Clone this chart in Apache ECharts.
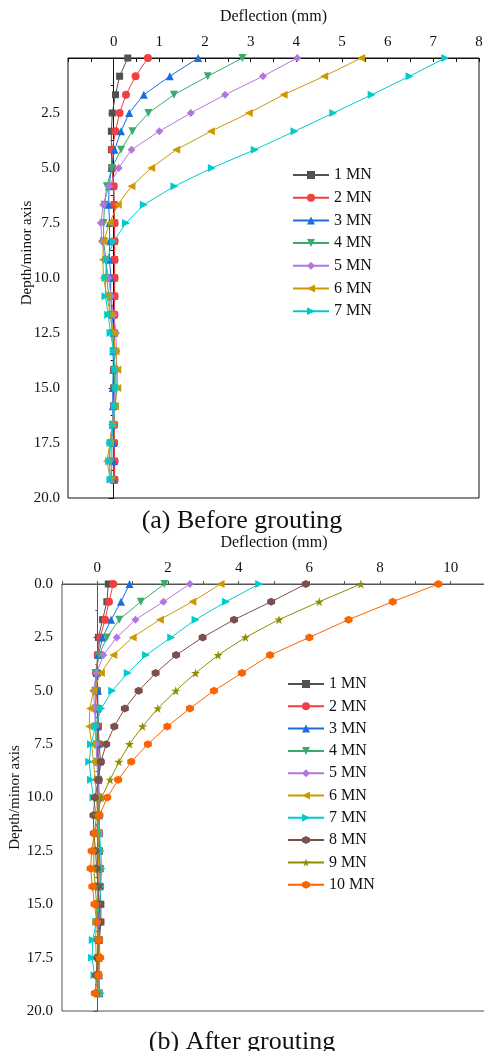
<!DOCTYPE html>
<html>
<head>
<meta charset="utf-8">
<script src="https://cdn.jsdelivr.net/npm/echarts@6/dist/echarts.min.js"></script>
<style>
html,body{margin:0;padding:0;background:#fff;}
#c{width:484px;height:1051px;}
</style>
</head>
<body>
<div id="c"></div>
<script>
// Depth (m) of the measuring points
const depths = [0, 0.83, 1.67, 2.5, 3.33, 4.17, 5, 5.83, 6.67, 7.5, 8.33, 9.17, 10, 10.83, 11.67, 12.5, 13.33, 14.17, 15, 15.83, 16.67, 17.5, 18.33, 19.17];

// (a) Before grouting – deflection (mm)
const namesA = ['1 MN', '2 MN', '3 MN', '4 MN', '5 MN', '6 MN', '7 MN'];
const a1 = [0.31, 0.13, 0.04, -0.03, -0.05, -0.05, -0.04, 0.0, 0.01, 0.02, 0.02, 0.02, 0.02, 0.02, 0.01, 0.01, 0.0, 0.0, 0.0, 0.0, 0.01, 0.01, 0.02, 0.02];
const a2 = [0.75, 0.48, 0.27, 0.13, 0.04, -0.03, -0.03, 0.0, 0.01, 0.02, 0.02, 0.02, 0.02, 0.02, 0.02, 0.02, 0.01, 0.01, 0.01, 0.01, 0.01, 0.01, 0.02, 0.02];
const a3 = [1.85, 1.23, 0.66, 0.34, 0.16, 0.02, -0.05, -0.1, -0.11, -0.09, -0.09, -0.09, -0.06, -0.07, -0.03, 0.0, -0.01, -0.01, -0.02, -0.02, -0.02, -0.01, -0.01, 0.0];
const a4 = [2.82, 2.06, 1.32, 0.76, 0.41, 0.16, -0.04, -0.15, -0.2, -0.22, -0.22, -0.17, -0.15, -0.11, -0.07, -0.03, 0.0, 0.02, 0.02, 0.0, -0.02, -0.05, -0.06, -0.04];
const a5 = [4.02, 3.27, 2.44, 1.69, 1.0, 0.39, 0.11, -0.1, -0.23, -0.28, -0.26, -0.18, -0.11, -0.06, 0.0, 0.05, 0.06, 0.06, 0.04, 0.0, -0.03, -0.09, -0.1, -0.07];
const a6 = [5.42, 4.61, 3.72, 2.96, 2.13, 1.37, 0.82, 0.39, 0.09, -0.09, -0.22, -0.24, -0.22, -0.15, -0.07, -0.01, 0.04, 0.08, 0.08, 0.03, -0.03, -0.08, -0.15, -0.07];
const a7 = [7.26, 6.48, 5.65, 4.81, 3.96, 3.09, 2.15, 1.33, 0.66, 0.27, 0.0, -0.15, -0.18, -0.18, -0.12, -0.07, 0.0, 0.04, 0.06, 0.03, -0.01, -0.07, -0.1, -0.07];

// (b) After grouting – deflection (mm)
const namesB = ['1 MN', '2 MN', '3 MN', '4 MN', '5 MN', '6 MN', '7 MN', '8 MN', '9 MN', '10 MN'];
const b1 = [0.31, 0.27, 0.15, 0.03, 0.01, 0.0, 0.0, 0.02, 0.03, 0.05, 0.09, 0.03, 0.0, 0.02, 0.05, 0.06, 0.08, 0.08, 0.1, 0.1, 0.06, 0.03, 0.02, 0.05];
const b2 = [0.45, 0.33, 0.22, 0.08, 0.01, -0.04, -0.03, 0.0, 0.01, 0.02, 0.03, 0.04, 0.05, 0.05, 0.05, 0.04, 0.04, 0.03, 0.03, 0.03, 0.02, 0.02, 0.03, 0.04];
const b3 = [0.91, 0.67, 0.39, 0.15, 0.03, -0.02, 0.02, 0.0, 0.0, 0.01, 0.02, 0.03, 0.04, 0.05, 0.05, 0.05, 0.04, 0.04, 0.03, 0.03, 0.03, 0.04, 0.05, 0.06];
const b4 = [1.9, 1.23, 0.62, 0.27, 0.05, -0.05, -0.06, -0.05, -0.04, -0.02, 0.0, 0.01, 0.02, 0.03, 0.03, 0.03, 0.02, 0.01, 0.0, 0.0, 0.01, 0.02, 0.03, 0.03];
const b5 = [2.62, 1.87, 1.08, 0.55, 0.17, -0.02, -0.11, -0.08, -0.06, -0.04, -0.01, 0.02, 0.04, 0.05, 0.05, 0.04, 0.03, 0.02, 0.01, 0.01, 0.02, 0.03, 0.04, 0.05];
const b6 = [3.49, 2.69, 1.77, 1.0, 0.45, 0.1, -0.11, -0.21, -0.23, -0.16, -0.11, -0.06, -0.02, 0.0, 0.02, 0.03, 0.03, 0.02, 0.0, -0.03, -0.05, -0.03, 0.0, 0.02];
const b7 = [4.58, 3.64, 2.78, 2.09, 1.38, 0.86, 0.42, 0.11, -0.05, -0.18, -0.23, -0.18, -0.11, -0.03, 0.06, 0.1, 0.12, 0.1, 0.06, -0.03, -0.13, -0.15, -0.08, 0.1];
const b8 = [5.9, 4.92, 3.87, 2.98, 2.23, 1.65, 1.17, 0.78, 0.48, 0.25, 0.1, 0.03, -0.07, -0.11, -0.1, -0.05, -0.02, 0.02, 0.05, 0.08, 0.03, 0.0, -0.03, -0.05];
const b9 = [7.46, 6.28, 5.14, 4.19, 3.42, 2.78, 2.22, 1.71, 1.28, 0.91, 0.61, 0.36, 0.12, -0.02, -0.08, -0.1, -0.1, -0.06, -0.02, 0.0, 0.02, 0.03, 0.02, 0.0];
const b10 = [9.65, 8.36, 7.11, 6.0, 4.89, 4.09, 3.3, 2.62, 1.98, 1.43, 0.96, 0.59, 0.28, 0.06, -0.08, -0.16, -0.19, -0.14, -0.08, -0.02, 0.05, 0.08, 0.03, -0.07];

const seriesA = [a1, a2, a3, a4, a5, a6, a7];
const seriesB = [b1, b2, b3, b4, b5, b6, b7, b8, b9, b10];

const colors = ['#515151', '#F14040', '#1A6FDF', '#37AD6B', '#B177DE', '#CC9900', '#00CBCC', '#7D4E4E', '#8E8E00', '#FB6501'];
const HEX = 'path://M0,-1L0.866,-0.5L0.866,0.5L0,1L-0.866,0.5L-0.866,-0.5Z';
const STAR = 'path://M0,-1L0.2245,-0.309L0.951,-0.309L0.363,0.118L0.588,0.809L0,0.382L-0.588,0.809L-0.363,0.118L-0.951,-0.309L-0.2245,-0.309Z';
const TRI_DOWN = 'path://M-1,-0.87L1,-0.87L0,0.87Z';
const TRI_LEFT = 'path://M0.87,-1L0.87,1L-0.87,0Z';
const TRI_RIGHT = 'path://M-0.87,-1L-0.87,1L0.87,0Z';
const symbols = ['rect', 'circle', 'triangle', TRI_DOWN, 'diamond', TRI_LEFT, TRI_RIGHT, HEX, STAR, HEX];
const sizes = [7, 8, 8, 8, 8, 8, 8, 8, 9, 8];

const FONT = 'Liberation Serif';

function mkSeries(arr, names, idx) {
  return arr.map((vals, k) => ({
    name: names[k],
    type: 'line',
    xAxisIndex: idx,
    yAxisIndex: idx,
    data: vals.map((v, j) => [v, depths[j]]),
    symbol: symbols[k],
    symbolSize: sizes[k],
    showSymbol: true,
    color: colors[k],
    lineStyle: { width: 1, color: colors[k] },
    itemStyle: { color: colors[k] },
    emphasis: { disabled: true },
    animation: false,
    z: 2 + k
  }));
}

const chart = echarts.init(document.getElementById('c'), null, { renderer: 'canvas' });

const axisTxt = { fontFamily: FONT, fontSize: 16, color: '#111' };

chart.setOption({
  animation: false,
  backgroundColor: '#fff',
  title: [
    { text: '(a) Before grouting', left: 'center', top: 503, textStyle: { fontFamily: FONT, fontSize: 26, fontWeight: 'normal', color: '#111' } },
    { text: '(b) After grouting', left: 'center', top: 1024, textStyle: { fontFamily: FONT, fontSize: 26, fontWeight: 'normal', color: '#111' } }
  ],
  grid: [
    { left: 68, top: 58, width: 411, height: 440, show: true, borderColor: '#111', borderWidth: 1, containLabel: false, outerBoundsMode: 'none' },
    { left: 62, top: 584, width: 424, height: 427, show: true, borderColor: '#555', borderWidth: 1, containLabel: false, outerBoundsMode: 'none' }
  ],
  legend: [
    {
      data: namesA, left: 292, top: 167, orient: 'vertical', padding: 0,
      itemWidth: 36, itemHeight: 10, itemGap: 6.7,
      textStyle: { fontFamily: FONT, fontSize: 16, color: '#111', lineHeight: 14 },
      selectedMode: false
    },
    {
      data: namesB, left: 287, top: 676, orient: 'vertical', padding: 0,
      itemWidth: 36, itemHeight: 10, itemGap: 6.3,
      textStyle: { fontFamily: FONT, fontSize: 16, color: '#111', lineHeight: 14 },
      selectedMode: false
    }
  ],
  xAxis: [
    {
      gridIndex: 0, type: 'value', position: 'top', min: -1, max: 8, interval: 1,
      name: 'Deflection (mm)', nameLocation: 'middle', nameGap: 33, nameMoveOverlap: false,
      nameTextStyle: axisTxt,
      axisLine: { show: true, lineStyle: { color: '#111', width: 1 } },
      axisTick: { show: true, inside: true, length: 4, lineStyle: { color: '#111' } },
      minorTick: { show: true, splitNumber: 2, length: 4, lineStyle: { color: '#111' } },
      axisLabel: { margin: 8, fontFamily: FONT, fontSize: 15, color: '#111', showMinLabel: false,
        formatter: v => (v < 0 ? '' : String(v)) },
      splitLine: { show: false }
    },
    {
      gridIndex: 1, type: 'value', position: 'top', min: -1, max: 11, interval: 1,
      name: 'Deflection (mm)', nameLocation: 'middle', nameGap: 33, nameMoveOverlap: false,
      nameTextStyle: axisTxt,
      axisLine: { show: true, lineStyle: { color: '#555', width: 1 } },
      axisTick: { show: true, inside: false, length: 3, lineStyle: { color: '#555' } },
      minorTick: { show: false },
      axisLabel: { margin: 8, fontFamily: FONT, fontSize: 15, color: '#111',
        formatter: v => (v >= 0 && v % 2 === 0 ? String(v) : '') },
      splitLine: { show: false }
    }
  ],
  yAxis: [
    {
      gridIndex: 0, type: 'value', inverse: true, min: 0, max: 20, interval: 2.5,
      name: 'Depth/minor axis', nameLocation: 'middle', nameRotate: 90, nameGap: 33, nameMoveOverlap: false,
      nameTextStyle: Object.assign({}, axisTxt, { fontSize: 15, padding: [0, 0, 0, 50] }),
      axisLine: { show: true, lineStyle: { color: '#111', width: 1 } },
      axisTick: { show: true, inside: false, length: 5, lineStyle: { color: '#111' } },
      minorTick: { show: true, splitNumber: 2, length: 3, lineStyle: { color: '#111' } },
      axisLabel: { margin: 8, fontFamily: FONT, fontSize: 15, color: '#111',
        formatter: v => (v === 0 ? '' : v.toFixed(1)) },
      splitLine: { show: false }
    },
    {
      gridIndex: 1, type: 'value', inverse: true, min: 0, max: 20, interval: 2.5,
      name: 'Depth/minor axis', nameLocation: 'middle', nameRotate: 90, nameGap: 39, nameMoveOverlap: false,
      nameTextStyle: Object.assign({}, axisTxt, { fontSize: 15 }),
      axisLine: { show: true, lineStyle: { color: '#555', width: 1 } },
      axisTick: { show: true, inside: false, length: 4, lineStyle: { color: '#555' } },
      minorTick: { show: true, splitNumber: 2, length: 2, lineStyle: { color: '#555' } },
      axisLabel: { margin: 9, fontFamily: FONT, fontSize: 15, color: '#111',
        formatter: v => v.toFixed(1) },
      splitLine: { show: false }
    }
  ],
  series: mkSeries(seriesA, namesA, 0).concat(mkSeries(seriesB, namesB, 1))
});
</script>
</body>
</html>
